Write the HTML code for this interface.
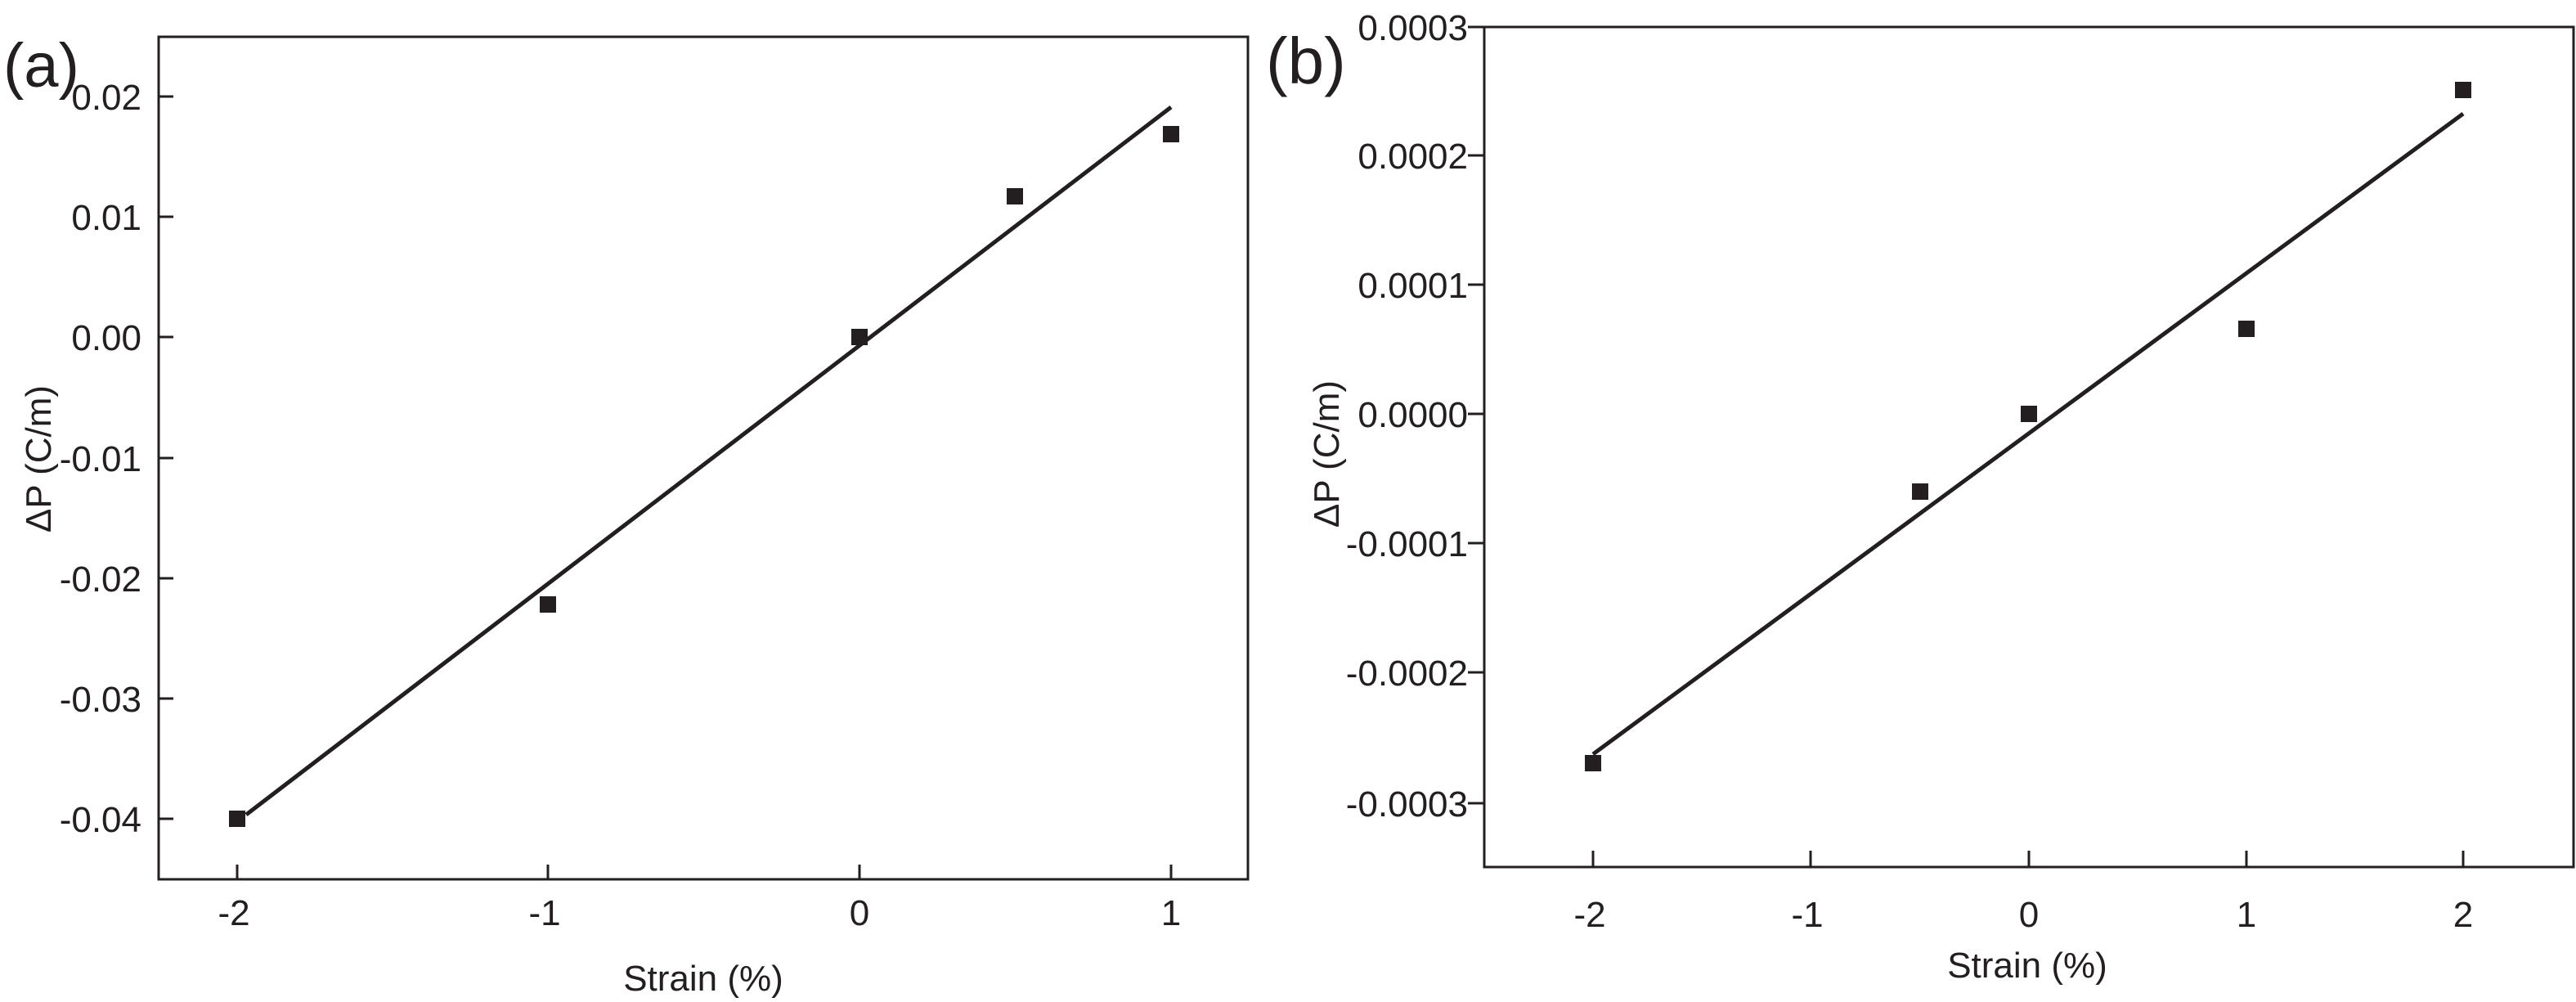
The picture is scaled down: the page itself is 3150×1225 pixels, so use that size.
<!DOCTYPE html>
<html><head><style>
html,body{margin:0;padding:0;background:#fff;}
svg{display:block;}
text{font-family:"Liberation Sans",sans-serif;fill:#231f20;}
</style></head><body>
<svg width="3150" height="1225" viewBox="0 0 3150 1225" xmlns="http://www.w3.org/2000/svg">
<g stroke="#231f20" fill="none" stroke-width="3">
<rect x="194" y="45" width="1332" height="1030"/>
<path d="M194 118H212M194 265H212M194 412H212M194 560H212M194 707H212M194 854H212M194 1001H212"/>
<path d="M290 1075V1057M670 1075V1057M1051 1075V1057M1432 1075V1057"/>
<path d="M301 996L1432 131" stroke-width="5"/>
<rect x="1815" y="33" width="1332" height="1027"/>
<path d="M1795 33H1815M1795 190H1815M1795 348H1815M1795 506H1815M1795 664H1815M1795 822H1815M1795 982H1815"/>
<path d="M1948 1060V1040M2214 1060V1040M2481 1060V1040M2747 1060V1040M3012 1060V1040"/>
<path d="M1948 922L3012 139" stroke-width="5"/>
</g>
<g fill="#231f20">
<rect x="280" y="991" width="20" height="20"/>
<rect x="660" y="729" width="20" height="20"/>
<rect x="1041" y="402" width="20" height="20"/>
<rect x="1231" y="230" width="20" height="20"/>
<rect x="1422" y="154" width="20" height="20"/>
<rect x="1938" y="923" width="20" height="20"/>
<rect x="2338" y="591" width="20" height="20"/>
<rect x="2471" y="496" width="20" height="20"/>
<rect x="2737" y="392" width="20" height="20"/>
<rect x="3002" y="100" width="20" height="20"/>
</g>
<g font-size="44" text-anchor="end">
<text x="173" y="134">0.02</text>
<text x="173" y="281">0.01</text>
<text x="173" y="428">0.00</text>
<text x="173" y="576">-0.01</text>
<text x="173" y="723">-0.02</text>
<text x="173" y="870">-0.03</text>
<text x="173" y="1017">-0.04</text>
<text x="1795" y="49">0.0003</text>
<text x="1795" y="206">0.0002</text>
<text x="1795" y="364">0.0001</text>
<text x="1795" y="522">0.0000</text>
<text x="1795" y="680">-0.0001</text>
<text x="1795" y="838">-0.0002</text>
<text x="1795" y="998">-0.0003</text>
</g>
<g font-size="44" text-anchor="middle">
<text x="286" y="1131">-2</text>
<text x="666" y="1131">-1</text>
<text x="1051" y="1131">0</text>
<text x="1432" y="1131">1</text>
<text x="1944" y="1133">-2</text>
<text x="2210" y="1133">-1</text>
<text x="2481" y="1133">0</text>
<text x="2747" y="1133">1</text>
<text x="3012" y="1133">2</text>
<text x="860" y="1211">Strain (%)</text>
<text x="2479" y="1195">Strain (%)</text>
<text transform="translate(62,561) rotate(-90)">ΔP (C/m)</text>
<text transform="translate(1637,555) rotate(-90)">ΔP (C/m)</text>
</g>
<text x="4" y="106" font-size="76">(a)</text>
<text x="1548" y="102" font-size="80">(b)</text>
</svg>
</body></html>
